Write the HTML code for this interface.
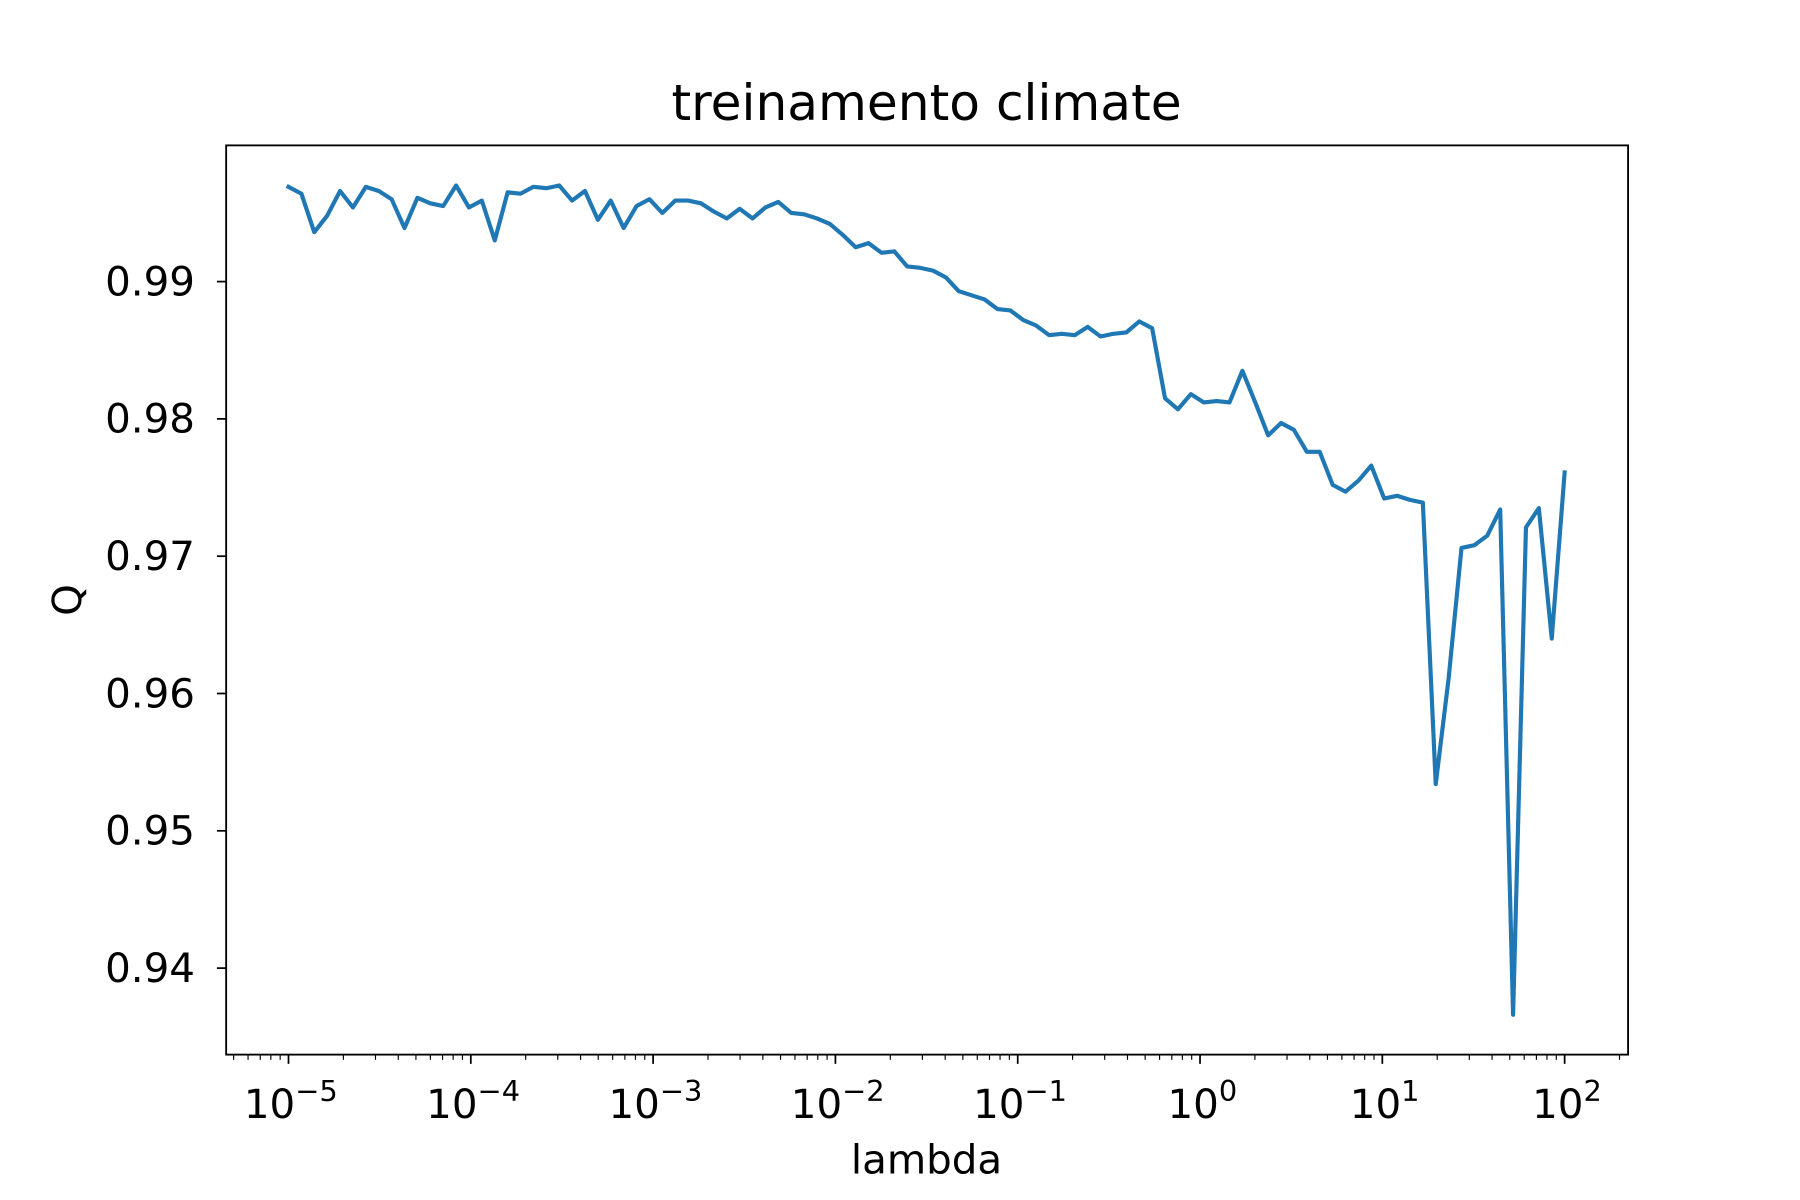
<!DOCTYPE html>
<html><head><meta charset="utf-8"><style>
html,body{margin:0;padding:0;background:#fff;}
svg{display:block;font-family:"DejaVu Sans","Liberation Sans",sans-serif;}
</style></head><body>
<svg id="chart" width="1800" height="1200" viewBox="0 0 1560 1040" xmlns="http://www.w3.org/2000/svg">
<rect width="1560" height="1040" fill="#fff"/>
<text x="803" y="104" font-size="43.5" text-anchor="middle">treinamento climate</text>
<g id="axes"></g>
<text x="803" y="1017" font-size="35" text-anchor="middle">lambda</text>
<text transform="translate(70,520) rotate(-90)" font-size="35" text-anchor="middle">Q</text>
</svg>
<script>
const qValues=[.9969,.9964,.9936,.9948,.9966,.9954,.9969,.9966,.9960,.9939,
.9961,.9957,.9955,.9970,.9954,.9959,.9930,.9965,.9964,.9969,
.9968,.9970,.9959,.9966,.9945,.9959,.9939,.9955,.9960,.9950,
.9959,.9959,.9957,.9951,.9946,.9953,.9946,.9954,.9958,.9950,
.9949,.9946,.9942,.9934,.9925,.9928,.9921,.9922,.9911,.9910,
.9908,.9903,.9893,.9890,.9887,.9880,.9879,.9872,.9868,.9861,
.9862,.9861,.9867,.9860,.9862,.9863,.9871,.9866,.9815,.9807,
.9818,.9812,.9813,.9812,.9835,.9812,.9788,.9797,.9792,.9776,
.9776,.9752,.9747,.9755,.9766,.9742,.9744,.9741,.9739,.9534,
.9611,.9706,.9708,.9715,.9734,.9366,.9721,.9735,.9640,.9761];
const lambdaExpStart=-5, lambdaExpEnd=2;
const yTicks=[0.94,0.95,0.96,0.97,0.98,0.99];
const yTickLabels=["0.94","0.95","0.96","0.97","0.98","0.99"];
const xTickExps=[-5,-4,-3,-2,-1,0,1,2];
const xTickLabels=["\u22125","\u22124","\u22123","\u22122","\u22121","0","1","2"];

const L=196,R=1411,T=126,B=914;
const xMin=-5.342,xMax=2.348,yMin=0.93370,yMax=0.99992;
const xs=e=>L+(e-xMin)/(xMax-xMin)*(R-L);
const ys=v=>B-(v-yMin)/(yMax-yMin)*(B-T);
const NS="http://www.w3.org/2000/svg";
const g=document.getElementById('axes');
function mk(tag,at,parent){const el=document.createElementNS(NS,tag);for(const k in at)el.setAttribute(k,at[k]);(parent||g).appendChild(el);return el;}

const n=qValues.length;
let d="";
qValues.forEach((v,i)=>{const e=lambdaExpStart+(lambdaExpEnd-lambdaExpStart)*i/(n-1);d+=(i?"L":"M")+xs(e).toFixed(2)+","+ys(v).toFixed(2);});
const line=mk('path',{d:d,fill:'none',stroke:'#1f77b4','stroke-width':3.6,'stroke-linejoin':'round','stroke-linecap':'square'});



yTicks.forEach((v,i)=>{const y=ys(v);
 const t=mk('line',{x1:L-8,x2:L,y1:y,y2:y,stroke:'#000','stroke-width':1.5});
 
 
 const tx=mk('text',{x:L-27,y:y+12,'font-size':35,'text-anchor':'end'});tx.textContent=yTickLabels[i];
 
 
});
xTickExps.forEach((e,i)=>{const x=xs(e);
 const t=mk('line',{x1:x,x2:x,y1:B,y2:B+8,stroke:'#000','stroke-width':1.5});
 
 
 const tx=mk('text',{x:x+2,y:B+55,'font-size':35,'text-anchor':'middle'});
 
 
 const a=document.createElementNS(NS,'tspan');a.textContent="10";tx.appendChild(a);
 const b=document.createElementNS(NS,'tspan');b.setAttribute('dy','-15');b.setAttribute('font-size','25');b.textContent=xTickLabels[i];tx.appendChild(b);
});
for(let e=-6;e<=2;e++){for(let k=2;k<=9;k++){const lv=e+Math.log10(k);if(lv<xMin||lv>xMax)continue;const x=xs(lv);
 const t=mk('line',{x1:x,x2:x,y1:B,y2:B+4.5,stroke:'#000','stroke-width':1});
 
 
}}
const fr=mk('rect',{x:L,y:T,width:R-L,height:B-T,fill:'none',stroke:'#000','stroke-width':1.6});


</script>
</body></html>
